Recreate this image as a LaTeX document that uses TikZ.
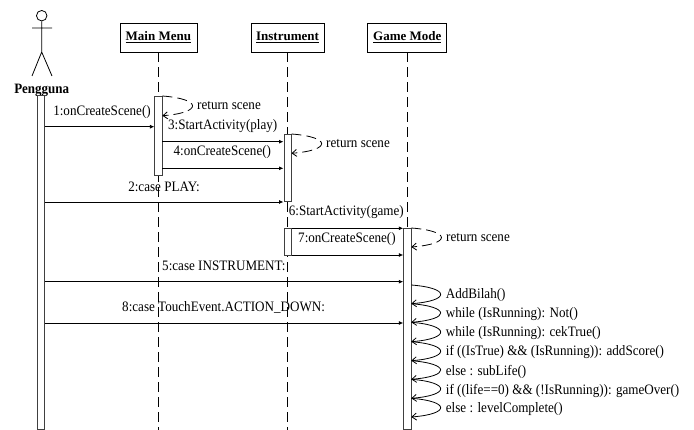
\documentclass[tikz,border=0pt]{standalone}
\usepackage{fontspec}
\setmainfont{Liberation Serif}
\usetikzlibrary{arrows.meta}
\tikzset{
  objbox/.style={draw=black, thick, fill=white, inner sep=0pt, minimum height=29pt, font=\fontsize{13}{15}\bfseries\selectfont},
  lifebar/.style={draw=black!75, thick, fill=white, inner sep=0pt, minimum width=7.2pt},
  lifeline/.style={thick, dash pattern=on 10pt off 5pt},
  msg/.style={thick, -{Latex[length=4.5pt,width=4pt]}},
  ret/.style={thick, dash pattern=on 10pt off 5pt, -{Straight Barb[length=4.5pt,width=7pt]}},
  selfcall/.style={thick, -{Straight Barb[length=4.5pt,width=7pt]}},
  txt/.style={inner sep=0pt, yscale=1.1, transform shape, font=\fontsize{13.1}{15}\selectfont},
}
\begin{document}
\begin{tikzpicture}[x=1pt, y=-1pt]
        \useasboundingbox (0,0) rectangle (694,430);
        \node[circle, draw, thick, inner sep=0pt, minimum size=10.5pt] (head) at (41.7,15.7) {};
        \coordinate (hip) at (41.7,52);
        \coordinate (armL) at (32,28);
        \coordinate (armR) at (52,28);
        \coordinate (footL) at (32,76);
        \coordinate (footR) at (52,76);
        \draw[thick] (head.south) -- (hip) (armL) -- (armR) (footL) -- (hip) -- (footR);
        \node[txt, font=\fontsize{13}{15}\bfseries\selectfont] (pengguna) at (41.7,90) {Pengguna};

        \node[objbox, minimum width=77pt] (mainmenu) at (158.4,37.5) {\underline{Main Menu}};
        \node[objbox, minimum width=73pt] (instrument) at (287.5,37.5) {\underline{Instrument}};
        \node[objbox, minimum width=79pt] (gamemode) at (407.3,37.5) {\underline{Game Mode}};
        \coordinate (endmenu) at (158.4,430);
        \coordinate (endinst) at (287.5,430);
        \coordinate (endgame) at (407.3,430);
        \draw[lifeline] (mainmenu.south) -- (endmenu);
        \draw[lifeline] (instrument.south) -- (endinst);
        \draw[lifeline] (gamemode.south) -- (endgame);

        \node[lifebar, minimum height=334pt] (barp) at (41.2,262) {};
        \node[lifebar, minimum height=79pt] (barm) at (158.4,135.5) {};
        \node[lifebar, minimum height=67pt] (bari) at (287.5,167.5) {};
        \node[lifebar, minimum height=27pt] (barj) at (287.5,241.5) {};
        \node[lifebar, minimum height=201pt] (barg) at (407.3,328.5) {};

        \draw[msg] (barp.east |- 0,126.7) -- (barm.west |- 0,126.7);
        \draw[msg] (barm.east |- 0,141.7) -- (bari.west |- 0,141.7);
        \draw[msg] (barm.east |- 0,168.3) -- (bari.west |- 0,168.3);
        \draw[msg] (barp.east |- 0,202) -- (bari.west |- 0,202);
        \draw[msg] (barj.east |- 0,228.3) -- (barg.west |- 0,228.3);
        \draw[msg] (barj.east |- 0,255) -- (barg.west |- 0,255);
        \draw[msg] (barp.east |- 0,281.7) -- (barg.west |- 0,281.7);
        \draw[msg] (barp.east |- 0,323) -- (barg.west |- 0,323);

        \node[txt] (m1) at (102,112) {1:onCreateScene()};
        \node[txt] (m3) at (222.7,126) {3:StartActivity(play)};
        \node[txt] (m4) at (222.3,152) {4:onCreateScene()};
        \node[txt] (m2) at (164,187) {2:case PLAY:};
        \node[txt, anchor=east] (m6) at (404,212) {6:StartActivity(game)};
        \node[txt, anchor=west] (m7) at (298,239) {7:onCreateScene()};
        \node[txt, anchor=west] (m5) at (162,266) {5:case INSTRUMENT:};
        \node[txt, anchor=west] (m8) at (122,307) {8:case TouchEvent.ACTION\_DOWN:};

        \draw[ret] (barm.east |- 0,96) .. controls +(40,3) and +(40,-3) .. (barm.east |- 0,115.7);
        \draw[ret] (bari.east |- 0,134) .. controls +(40,3) and +(40,-3) .. (bari.east |- 0,153.3);
        \draw[ret] (barg.east |- 0,228) .. controls +(40,3) and +(40,-3) .. (barg.east |- 0,247);
        \node[txt, anchor=west] (r1) at (197,106) {return scene};
        \node[txt, anchor=west] (r2) at (326,144) {return scene};
        \node[txt, anchor=west] (r3) at (446,238) {return scene};

        \foreach \i/\ya/\yb/\yt/\lbl in {
                1/285/303.7/295/AddBilah(),
                2/303.7/322.3/314/while (IsRunning): Not(),
                3/322.3/341.7/332.7/while (IsRunning): cekTrue(),
                4/341.7/360.7/352/if ((IsTrue) \&\& (IsRunning)): addScore(),
                5/360.7/379.3/371.7/else : subLife(),
                6/379.3/398.3/390.7/if ((life==0) \&\& (!IsRunning)): gameOver(),
                7/398.3/417/409.3/else : levelComplete()}{
                \draw[selfcall] (barg.east |- 0,\ya) .. controls +(39,3) and +(39,-3) .. (barg.east |- 0,\yb);
                \node[txt, anchor=west] (s\i) at (445.7,\yt) {\lbl};
        }
\end{tikzpicture}
\end{document}
